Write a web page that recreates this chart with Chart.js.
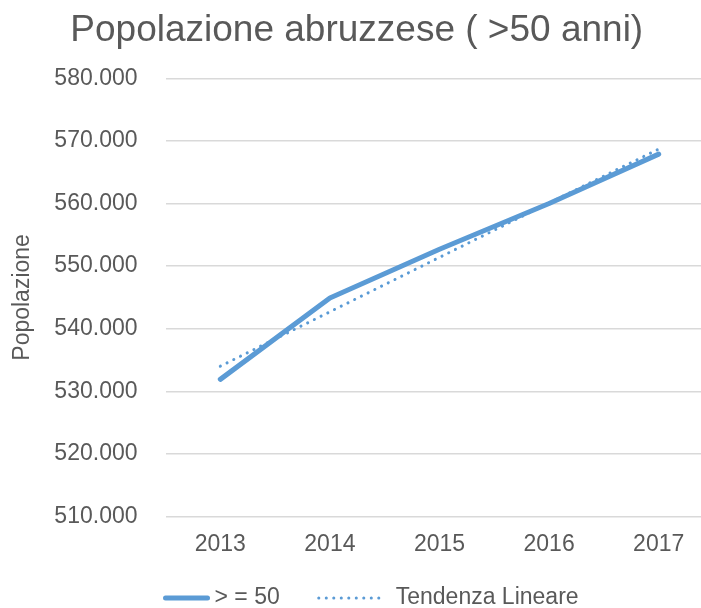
<!DOCTYPE html>
<html lang="it">
<head>
<meta charset="UTF-8">
<title>Popolazione abruzzese ( >50 anni)</title>
<script src="https://cdn.jsdelivr.net/npm/chart.js"></script>
<style>
    html, body { margin: 0; padding: 0; background: #fff; overflow: hidden; }
    /* il grafico originale è tagliato a destra: area un po' più larga della finestra */
    #wrap { width: 715px; height: 608px; }
</style>
</head>
<body>
<div id="wrap"><canvas id="grafico"></canvas></div>
<script>
    // dati
    const anni = ['2013', '2014', '2015', '2016', '2017'];
    const over50 = [531900, 544900, 552700, 560000, 567900];
    const tendenzaLineare = [534000, 542700, 551400, 560100, 568700];
    const nomiSerie = ['> = 50', 'Tendenza Lineare'];
    const yMin = 510000, yMax = 580000, yPasso = 10000;

    const grigio = '#595959';
    const blu = '#5B9BD5';
    const font = 'Liberation Sans, Arial, sans-serif';

    // 580000 -> "580.000"
    function formatta(v) {
        return String(Math.round(v)).replace(/\B(?=(\d{3})+(?!\d))/g, '.');
    }

    // legenda in stile Excel: campioni di lunghezza diversa per le due serie
    const legendaExcel = {
        id: 'legendaExcel',
        afterDraw(chart) {
            const ctx = chart.ctx;
            const campioni = [42, 62];
            const y = chart.height - 10;
            let x = chart.chartArea.left;
            ctx.save();
            ctx.font = '23px ' + font;
            ctx.textBaseline = 'middle';
            chart.data.datasets.forEach((ds, i) => {
                ctx.strokeStyle = ds.borderColor;
                ctx.lineWidth = ds.borderWidth;
                ctx.lineCap = ds.borderCapStyle || 'butt';
                ctx.setLineDash(ds.borderDash || []);
                ctx.beginPath();
                ctx.moveTo(x, y);
                ctx.lineTo(x + campioni[i], y);
                ctx.stroke();
                x += campioni[i] + (i === 0 ? 7 : 15);
                ctx.fillStyle = grigio;
                ctx.fillText(ds.label, x, y);
                x += ctx.measureText(ds.label).width + 39;
            });
            ctx.restore();
        }
    };

    Chart.defaults.font.family = font;
    Chart.defaults.color = grigio;

    new Chart(document.getElementById('grafico'), {
        type: 'line',
        data: {
            labels: anni,
            datasets: [{
                label: nomiSerie[0],
                data: over50,
                borderColor: blu,
                backgroundColor: blu,
                borderWidth: 5,
                borderCapStyle: 'round',
                borderJoinStyle: 'round',
                pointRadius: 0,
                tension: 0
            }, {
                label: nomiSerie[1],
                data: tendenzaLineare,
                borderColor: blu,
                backgroundColor: blu,
                borderWidth: 3,
                borderDash: [0.1, 7.4],
                borderCapStyle: 'round',
                pointRadius: 0,
                tension: 0
            }]
        },
        options: {
            responsive: true,
            maintainAspectRatio: false,
            animation: false,
            layout: { padding: { left: 0, right: 1.5, top: 0, bottom: 36 } },
            plugins: {
                title: {
                    display: true,
                    text: 'Popolazione abruzzese ( >50 anni)',
                    color: grigio,
                    font: { size: 37, weight: 'normal' },
                    padding: { top: 9, bottom: 25 }
                },
                legend: { display: false },
                tooltip: { enabled: false }
            },
            scales: {
                x: {
                    offset: true,
                    grid: { display: false, drawTicks: false },
                    border: { display: false },
                    ticks: { color: grigio, font: { size: 23 }, padding: 14 }
                },
                y: {
                    min: yMin,
                    max: yMax,
                    grid: { color: '#d9d9d9', lineWidth: 1.5, drawTicks: false },
                    border: { display: false },
                    ticks: {
                        stepSize: yPasso,
                        color: grigio,
                        font: { size: 23 },
                        padding: 28,
                        callback: v => formatta(v)
                    },
                    title: {
                        display: true,
                        text: 'Popolazione',
                        color: grigio,
                        font: { size: 23 },
                        padding: { top: 9, bottom: 12 }
                    },
                    afterFit: s => { s.width = 165.5; }
                }
            }
        },
        plugins: [legendaExcel]
    });
</script>
</body>
</html>
